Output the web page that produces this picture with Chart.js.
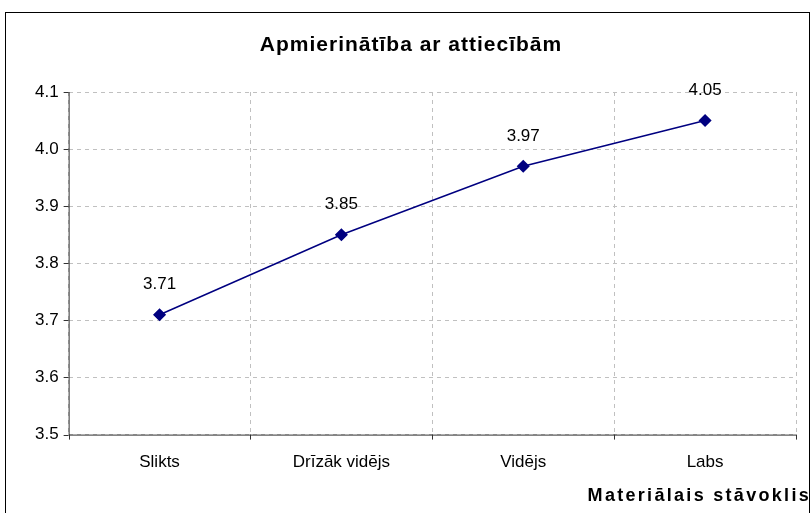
<!DOCTYPE html>
<html lang="lv">
<head>
<meta charset="UTF-8">
<title>Apmierinātība ar attiecībām</title>
<script src="https://cdn.jsdelivr.net/npm/chart.js"></script>
<style>
  html, body { margin: 0; padding: 0; background: #fff; overflow: hidden; }
  .frame {
    position: absolute; left: 5px; top: 12px;
    width: 803px; height: 510px;
    border: 1px solid #000;
  }
  .frame canvas { display: block; }
</style>
</head>
<body>
<div class="frame">
  <canvas id="chart" width="803" height="510"></canvas>
</div>
<script>
// data
const categories = ['Slikts', 'Drīzāk vidējs', 'Vidējs', 'Labs'];
const values = [3.71, 3.85, 3.97, 4.05];
const chartTitle = 'Apmierinātība ar attiecībām';
const xTitle = 'Materiālais stāvoklis';

const FONT = 'Arial, "Liberation Sans", sans-serif';

// title, value labels and x axis title (Excel draws them letter-spaced)
const extras = {
  id: 'extras',
  afterDatasetsDraw(chart) {
    const ctx = chart.ctx;
    const meta = chart.getDatasetMeta(0);
    ctx.save();
    ctx.fillStyle = '#000';
    ctx.textBaseline = 'middle';

    ctx.font = '17px ' + FONT;
    ctx.textAlign = 'center';
    meta.data.forEach((pt, i) => {
      ctx.fillText(values[i].toFixed(2), pt.x, pt.y - 30);
    });

    ctx.font = 'bold 21px ' + FONT;
    ctx.letterSpacing = '1px';
    ctx.fillText(chartTitle, 405, 32);

    ctx.font = 'bold 18px ' + FONT;
    ctx.letterSpacing = '2.3px';
    ctx.textAlign = 'right';
    ctx.fillText(xTitle, chart.width + 2, 483);
    ctx.restore();
  }
};

// solid axes with outside tick marks, Excel style
const axesStyle = {
  id: 'axesStyle',
  beforeDatasetsDraw(chart) {
    const { ctx, chartArea: a, scales } = chart;
    ctx.save();
    ctx.strokeStyle = '#333';
    ctx.lineWidth = 1;
    ctx.beginPath();
    ctx.moveTo(a.left + 0.5, a.top);
    ctx.lineTo(a.left + 0.5, a.bottom + 0.5);
    ctx.lineTo(a.right, a.bottom + 0.5);
    scales.y.ticks.forEach((t, i) => {
      const y = Math.round(scales.y.getPixelForTick(i)) + 0.5;
      ctx.moveTo(a.left - 5, y);
      ctx.lineTo(a.left, y);
    });
    for (let i = 0; i <= categories.length; i++) {
      const x = Math.round(scales.x.getPixelForValue(i - 0.5)) + 0.5;
      ctx.moveTo(x, a.bottom);
      ctx.lineTo(x, a.bottom + 5);
    }
    ctx.stroke();
    ctx.restore();
  }
};

new Chart(document.getElementById('chart'), {
  type: 'line',
  data: {
    labels: categories,
    datasets: [{
      data: values,
      borderColor: '#000080',
      backgroundColor: '#000080',
      borderWidth: 1.5,
      tension: 0,
      pointStyle: 'rectRot',
      pointRadius: 5.5,
      pointHoverRadius: 5.5
    }]
  },
  options: {
    responsive: false,
    animation: false,
    layout: { padding: { left: 19, right: 13, top: 79, bottom: 32 } },
    plugins: {
      legend: { display: false },
      tooltip: { enabled: false },
      title: { display: false }
    },
    scales: {
      x: {
        offset: true,
        grid: { offset: true, color: '#c0c0c0', drawTicks: false },
        border: { display: false, dash: [4, 4] },
        ticks: { color: '#000', font: { family: FONT, size: 17 }, padding: 18 }
      },
      y: {
        min: 3.5,
        max: 4.1,
        grid: { color: '#c0c0c0', drawTicks: false },
        border: { display: false, dash: [4, 4] },
        ticks: {
          stepSize: 0.1,
          color: '#000',
          font: { family: FONT, size: 17 },
          padding: 10,
          callback: v => Number(v).toFixed(1)
        }
      }
    }
  },
  plugins: [axesStyle, extras]
});
</script>
</body>
</html>
